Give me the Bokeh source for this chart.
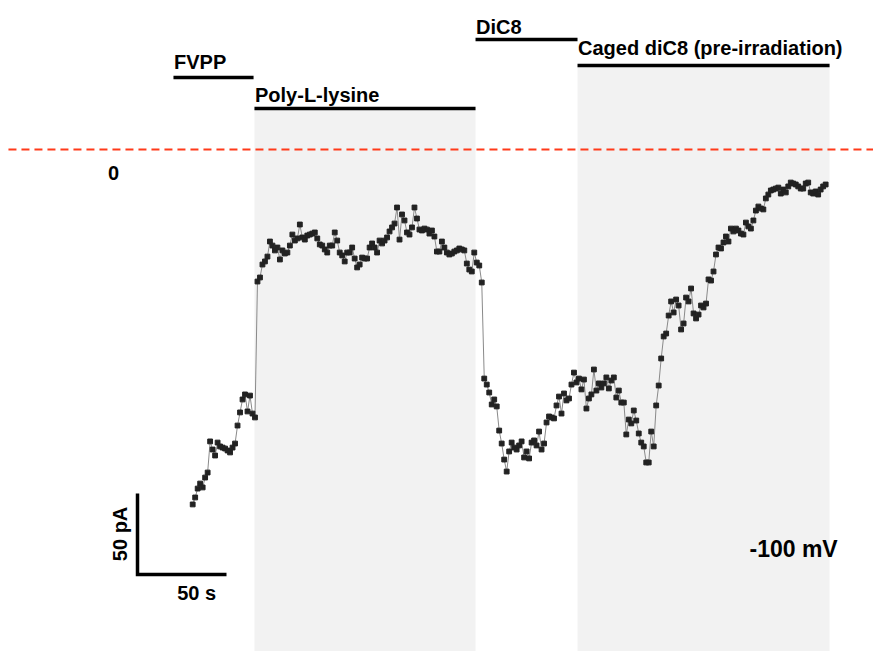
from bokeh.plotting import figure
from bokeh.models import Range1d, BoxAnnotation, Label, ColumnDataSource
from bokeh.embed import file_html
from bokeh.resources import INLINE

# ---- data ----
t0 = 31.0          # s, first sample
dt = 1.4           # s, sample interval
current_pA = [
    -219.1, -214.8, -209.3, -206.2, -208.6, -202.5, -199.4, -180.2, -185.2, -188.9,
    -180.9, -183.3, -184.0, -184.6, -185.8, -187.0, -184.0, -181.5, -170.4, -162.3,
    -154.3, -151.2, -161.7, -151.9, -163.0, -165.4, -81.5, -79.0, -71.0, -69.1,
    -66.1, -56.8, -59.3, -62.3, -60.5, -67.9, -62.3, -64.2, -63.6, -59.3,
    -52.5, -56.2, -54.9, -46.3, -54.3, -55.6, -53.1, -52.5, -51.9, -51.2,
    -54.9, -58.6, -59.3, -61.7, -63.6, -59.3, -59.3, -51.2, -56.2, -63.6,
    -65.4, -69.1, -63.6, -63.6, -60.5, -67.3, -72.8, -71.0, -66.7, -67.3,
    -67.3, -60.5, -58.0, -60.5, -63.6, -56.2, -58.0, -56.2, -54.3, -50.6,
    -48.1, -45.7, -35.8, -55.6, -40.1, -43.8, -51.2, -52.5, -48.1, -35.8,
    -42.6, -49.4, -50.0, -48.8, -49.4, -51.9, -50.0, -53.7, -63.0, -63.0,
    -56.8, -60.5, -63.6, -64.8, -64.2, -63.0, -62.3, -61.1, -61.7, -62.3,
    -70.4, -74.1, -75.3, -63.6, -69.8, -71.6, -82.1, -141.4, -145.1, -150.0,
    -157.4, -154.3, -158.6, -173.5, -181.5, -191.4, -198.8, -186.4, -180.9, -184.0,
    -185.2, -182.7, -180.2, -190.1, -186.4, -190.7, -180.9, -179.6, -182.7, -174.1,
    -185.2, -181.5, -168.5, -164.8, -165.4, -166.0, -158.0, -152.5, -163.0, -150.6,
    -154.9, -153.7, -145.1, -137.7, -143.8, -141.4, -148.1, -142.0, -159.9, -153.7,
    -151.2, -135.8, -148.8, -144.4, -146.9, -144.4, -140.7, -147.5, -142.6, -140.7,
    -153.1, -148.8, -156.2, -156.2, -175.9, -166.7, -169.1, -161.1, -167.3, -175.3,
    -180.9, -183.3, -193.2, -193.2, -174.1, -183.3, -158.0, -145.7, -129.0, -115.4,
    -113.6, -102.5, -93.8, -100.6, -92.6, -96.3, -111.1, -107.4, -91.4, -93.8,
    -85.8, -101.2, -104.3, -101.9, -96.3, -97.5, -95.1, -80.2, -80.9, -75.3,
    -64.8, -60.5, -61.1, -57.4, -53.7, -56.8, -48.8, -50.6, -48.8, -50.0,
    -51.9, -52.5, -45.1, -47.5, -48.8, -43.8, -37.7, -35.2, -36.4, -37.0,
    -30.2, -27.8, -25.3, -24.7, -24.1, -23.5, -27.2, -24.7, -26.5, -22.8,
    -20.4, -21.0, -21.6, -22.8, -24.1, -24.1, -21.0, -20.4, -26.5, -27.2,
    -25.9, -27.8, -24.7, -22.8, -21.6,
]
time_s = [t0 + dt * i for i in range(len(current_pA))]

events = ["FVPP", "Poly-L-lysine", "DiC8", "Caged diC8 (pre-irradiation)"]
event_start_s = [20.2, 65.7, 189.9, 247.2]
event_end_s = [65.2, 189.9, 247.2, 388.8]
shaded_events = [1, 3]

scale_t_s = 50      # horizontal scale bar, s
scale_i_pA = 50     # vertical scale bar, pA
hold_labels = ["0", "-100 mV"]

# ---- layout (styles/positions) ----
bar_level = [44.4, 25.3, 67.9, 51.9]
label_level = [54.0, 33.8, 75.5, 62.8]
FONT = "Liberation Sans"
x0, x1 = -76.97, 413.48
y0, y1 = -309.88, 91.98

p = figure(width=873, height=651, x_range=Range1d(x0, x1), y_range=Range1d(y0, y1),
           output_backend="svg", toolbar_location=None,
           x_axis_location=None, y_axis_location=None,
           min_border=0, min_border_left=0, min_border_right=0,
           min_border_top=0, min_border_bottom=0)
p.grid.visible = False
p.outline_line_color = None
p.background_fill_color = "white"
p.border_fill_color = "white"

for k in shaded_events:
    p.add_layout(BoxAnnotation(left=event_start_s[k], right=event_end_s[k],
                               top=bar_level[k], fill_color="#f2f2f2", fill_alpha=1.0,
                               line_color=None, level="underlay"))

# event bars and labels
p.segment(x0=event_start_s, x1=event_end_s, y0=bar_level, y1=bar_level,
          line_color="black", line_width=3.5)
for name, xs, ly in zip(events, event_start_s, label_level):
    p.add_layout(Label(x=xs + 0.3, y=ly, text=name, text_font=FONT,
                       text_font_style="bold", text_font_size="20px",
                       text_baseline="middle", text_align="left", text_color="black"))

# zero-current dashed line
p.segment(x0=[-72.5], x1=[x1], y0=[0], y1=[0], line_color="#ff3a1a",
          line_width=2, line_dash="8 5")

# trace
src = ColumnDataSource(dict(t=time_s, i=current_pA))
p.line("t", "i", source=src, line_color="#8a8a8a", line_width=1)
p.scatter("t", "i", source=src, marker="square", size=4.8,
          fill_color="#222222", line_color="#222222")

# scale bars
sb_y = -262.3
p.line([0, 0, scale_t_s], [sb_y + scale_i_pA, sb_y, sb_y], line_color="black",
       line_width=3.5, line_join="miter")
p.add_layout(Label(x=-9.6, y=sb_y + scale_i_pA / 2, text=f"{scale_i_pA} pA",
                   angle=90, angle_units="deg", text_font=FONT, text_font_style="bold",
                   text_font_size="20px", text_align="center", text_baseline="middle",
                   text_color="black"))
p.add_layout(Label(x=33.2, y=sb_y - 11.5, text=f"{scale_t_s} s", text_font=FONT,
                   text_font_style="bold", text_font_size="20px",
                   text_align="center", text_baseline="middle", text_color="black"))

# holding labels
p.add_layout(Label(x=-13.5, y=-14.2, text=hold_labels[0], text_font=FONT,
                   text_font_style="bold", text_font_size="20px",
                   text_align="center", text_baseline="middle", text_color="black"))
p.add_layout(Label(x=343.8, y=-246.3, text=hold_labels[1], text_font=FONT,
                   text_font_style="bold", text_font_size="23px",
                   text_align="left", text_baseline="middle", text_color="black"))

open("out.html", "w").write(file_html(p, INLINE))
